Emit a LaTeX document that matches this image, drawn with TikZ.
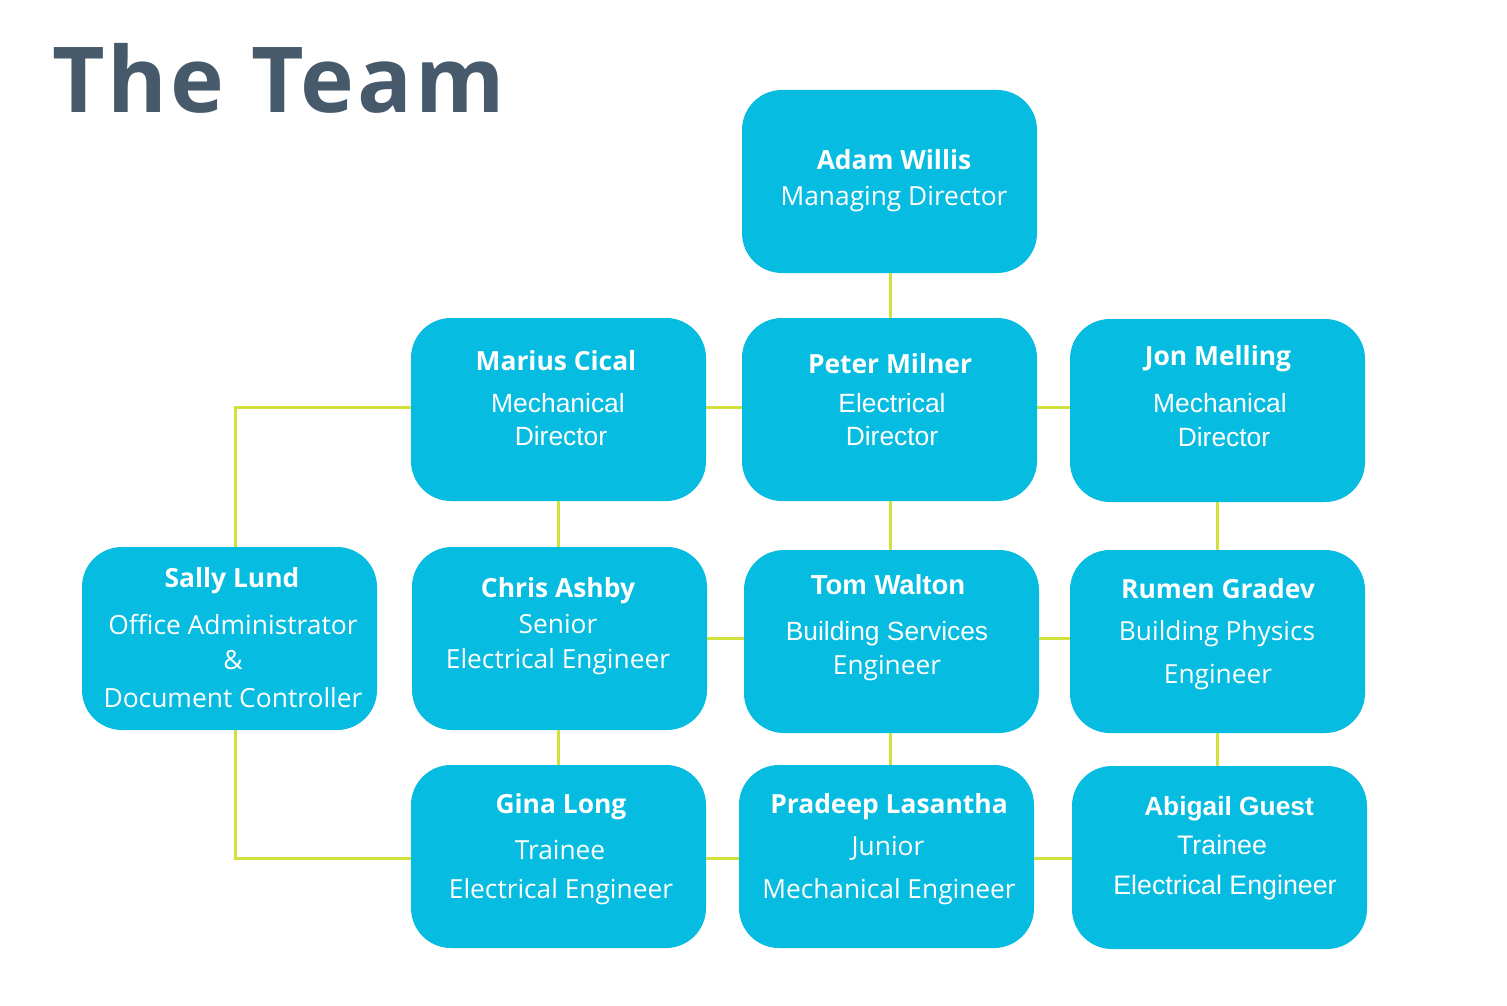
\documentclass[tikz,border=0pt]{standalone}
\usepackage{fontspec}
\setmainfont{Open Sans}
\newfontfamily\arialf{Liberation Sans}
\newfontfamily\titlef[LetterSpace=3.4]{Open Sans}
\definecolor{boxcyan}{HTML}{06BCE0}
\definecolor{linegreen}{HTML}{D2E03C}
\definecolor{titlegrey}{HTML}{475A6B}
\tikzset{
  member/.style={draw=none, fill=boxcyan, rounded corners=40pt, minimum width=295pt, minimum height=183pt, inner sep=0pt},
  link/.style={draw=linegreen, line width=3pt},
  nm/.style={anchor=base, text=white, inner sep=0pt, font=\fontsize{26.4}{30}\selectfont\bfseries},
  rl/.style={anchor=base, text=white, inner sep=0pt, font=\fontsize{26.3}{28}\selectfont},
  rlS/.style={anchor=base, text=white, inner sep=0pt, font=\fontsize{26.4}{28}\selectfont},
  nmA/.style={anchor=base, text=white, inner sep=0pt, font=\fontsize{26.3}{30}\selectfont\arialf\bfseries},
  rlA/.style={anchor=base, text=white, inner sep=0pt, font=\fontsize{26.4}{28}\selectfont\arialf},
}
\begin{document}
\begin{tikzpicture}[x=1pt,y=-1pt]
\useasboundingbox (0,0) rectangle (1507,1006);
\fill[white] (0,0) rectangle (1507,1006);
\node[anchor=base west, inner sep=0pt, text=titlegrey, font=\fontsize{91}{95}\titlef\bfseries] (title) at (52,113) {The Team};

% boxes
\node[member] (adam) at (889.5,181.5) {};
\node[member] (marius) at (558.5,409.5) {};
\node[member] (peter) at (889.5,409.5) {};
\node[member] (jon) at (1217.5,410.5) {};
\node[member] (sally) at (229.5,638.5) {};
\node[member] (chris) at (559.5,638.5) {};
\node[member] (tom) at (891.5,641.5) {};
\node[member] (rumen) at (1217.5,641.5) {};
\node[member] (gina) at (558.5,856.5) {};
\node[member] (pradeep) at (886.5,856.5) {};
\node[member] (abigail) at (1219.5,857.5) {};

% connectors
\coordinate (c1) at (235,407);
\coordinate (c2) at (235,858);
\coordinate (vx1) at (890,0);
\coordinate (vx2) at (558,0);
\coordinate (vx3) at (1217,0);
\coordinate (hy1) at (0,407);
\coordinate (hy2) at (0,638);
\coordinate (hy3) at (0,858);
\draw[link] (vx1 |- adam.south) -- (vx1 |- peter.north);
\draw[link] (marius.east |- hy1) -- (peter.west |- hy1);
\draw[link] (peter.east |- hy1) -- (jon.west |- hy1);
\draw[link] (marius.west |- hy1) -- (c1) -- (c1 |- sally.north);
\draw[link] (c1 |- sally.south) -- (c2) -- (gina.west |- c2);
\draw[link] (vx2 |- marius.south) -- (vx2 |- chris.north);
\draw[link] (vx1 |- peter.south) -- (vx1 |- tom.north);
\draw[link] (vx3 |- jon.south) -- (vx3 |- rumen.north);
\draw[link] (chris.east |- hy2) -- (tom.west |- hy2);
\draw[link] (tom.east |- hy2) -- (rumen.west |- hy2);
\draw[link] (vx2 |- chris.south) -- (vx2 |- gina.north);
\draw[link] (vx1 |- tom.south) -- (vx1 |- pradeep.north);
\draw[link] (vx3 |- rumen.south) -- (vx3 |- abigail.north);
\draw[link] (gina.east |- hy3) -- (pradeep.west |- hy3);
\draw[link] (pradeep.east |- hy3) -- (abigail.west |- hy3);

% texts
\node[nm] (adamN) at (894,169) {Adam Willis};
\node[rl] (adamR) at (894,205) {Managing Director};

\node[nm] (mariusN) at (556,370) {Marius Cical};
\node[rlA] (mariusR1) at (558,412) {Mechanical};
\node[rlA] (mariusR2) at (561,445) {Director};

\node[nm] (peterN) at (890,373) {Peter Milner};
\node[rlA] (peterR1) at (892,412) {Electrical};
\node[rlA] (peterR2) at (892,445) {Director};

\node[nm] (jonN) at (1218,365) {Jon Melling};
\node[rlA] (jonR1) at (1220,412) {Mechanical};
\node[rlA] (jonR2) at (1224,446) {Director};

\node[nm] (sallyN) at (232,587) {Sally Lund};
\node[rlS] (sallyR1) at (233,634) {Office Administrator};
\node[rlS] (sallyR2) at (233,669) {\&};
\node[rlS] (sallyR3) at (233,707) {Document Controller};

\node[nm] (chrisN) at (558,597) {Chris Ashby};
\node[rl] (chrisR1) at (558,633) {Senior};
\node[rl] (chrisR2) at (558,668) {Electrical Engineer};

\node[nmA, font=\fontsize{27.5}{30}\selectfont\arialf\bfseries] (tomN) at (888,594) {Tom Walton};
\node[rlA] (tomR1) at (887,640) {Building Services};
\node[rl] (tomR2) at (887,674) {Engineer};

\node[nm] (rumenN) at (1218,598) {Rumen Gradev};
\node[rl] (rumenR1) at (1217,640) {Building Physics};
\node[rl] (rumenR2) at (1218,683) {Engineer};

\node[nm] (ginaN) at (561,813) {Gina Long};
\node[rl] (ginaR1) at (560,859) {Trainee};
\node[rl] (ginaR2) at (561,898) {Electrical Engineer};

\node[nm] (pradeepN) at (889,813) {Pradeep Lasantha};
\node[rl] (pradeepR1) at (888,855) {Junior};
\node[rl] (pradeepR2) at (889,898) {Mechanical Engineer};

\node[nmA] (abigailN) at (1229,815) {Abigail Guest};
\node[rlA, font=\fontsize{26.8}{28}\selectfont\arialf] (abigailR1) at (1222,854) {Trainee};
\node[rlA, font=\fontsize{26.8}{28}\selectfont\arialf] (abigailR2) at (1225,894) {Electrical Engineer};
\end{tikzpicture}
\end{document}
